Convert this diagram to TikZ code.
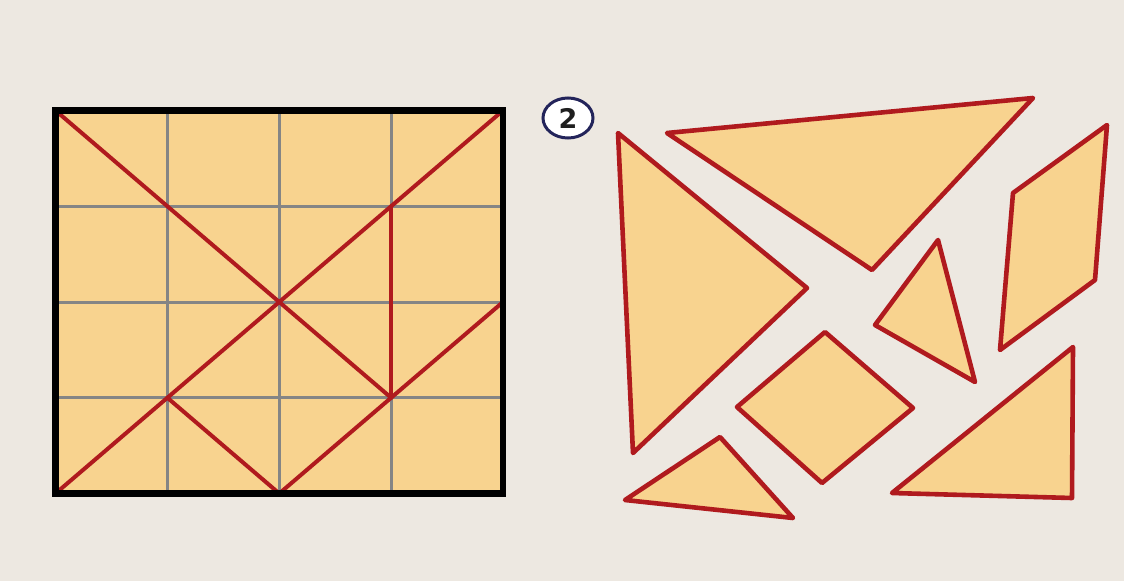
\documentclass[tikz,border=0pt]{standalone}
\usepackage{fontspec}
\setmainfont{DejaVu Sans}
\definecolor{bg}{HTML}{EDE8E1}
\definecolor{piecefill}{HTML}{F8D38F}
\definecolor{redline}{HTML}{B01A1E}
\definecolor{gridgray}{HTML}{858585}
\definecolor{navy}{HTML}{23245A}
\tikzset{
  piece/.style={fill=piecefill, draw=redline, line width=4.6pt, line join=round},
  cut/.style={draw=redline, line width=4pt, line cap=round},
  gridline/.style={draw=gridgray, line width=3pt},
  frame/.style={draw=black, line width=6.5pt, line join=miter},
  badge/.style={ellipse, draw=navy, line width=3pt, fill=white, minimum width=50pt, minimum height=40pt, inner sep=0pt, font=\bfseries\fontsize{27}{27}\selectfont, text=black!88}
}
\usetikzlibrary{shapes.geometric}
\begin{document}
\begin{tikzpicture}[x=1pt,y=-1pt]
\fill[bg] (0,0) rectangle (1124,581);
\useasboundingbox (0,0) rectangle (1124,581);
% left square
\coordinate (TL) at (55.5,110.5);
\coordinate (BR) at (503,493.5);
\fill[piecefill] (TL) rectangle (BR);
\foreach \i in {1,2,3} {
  \draw[gridline] ({55.5+\i*111.875},110.5) -- ({55.5+\i*111.875},493.5);
  \draw[gridline] (55.5,{110.5+\i*95.75}) -- (503,{110.5+\i*95.75});
}
% grid points
\coordinate (p00) at (55.5,110.5);
\coordinate (p40) at (503,110.5);
\coordinate (p04) at (55.5,493.5);
\coordinate (p24) at (279.25,493.5);
\coordinate (p13) at (167.375,397.75);
\coordinate (p33) at (391.125,397.75);
\coordinate (p31) at (391.125,206.25);
\coordinate (p42) at (503,302);
\draw[cut] (p00) -- (p33);
\draw[cut] (p40) -- (p04);
\draw[cut] (p31) -- (p33);
\draw[cut] (p13) -- (p24);
\draw[cut] (p24) -- (p42);
\draw[frame] (TL) rectangle (BR);
% badge
\node[badge] (badge) at (568,118) {2};
% pieces
\draw[piece] (667,133) -- (1033,98) -- (872,270) -- cycle;
\draw[piece] (618,133) -- (807,288) -- (633,453) -- cycle;
\draw[piece] (1013,193) -- (1107,125) -- (1095,280) -- (1000,350) -- cycle;
\draw[piece] (938,240) -- (975,382) -- (875,325) -- cycle;
\draw[piece] (825,332) -- (913,408) -- (822,483) -- (737,407) -- cycle;
\draw[piece] (720,437) -- (793,518) -- (625,500) -- cycle;
\draw[piece] (1073,347) -- (1072,498) -- (892,493) -- cycle;
\end{tikzpicture}
\end{document}
